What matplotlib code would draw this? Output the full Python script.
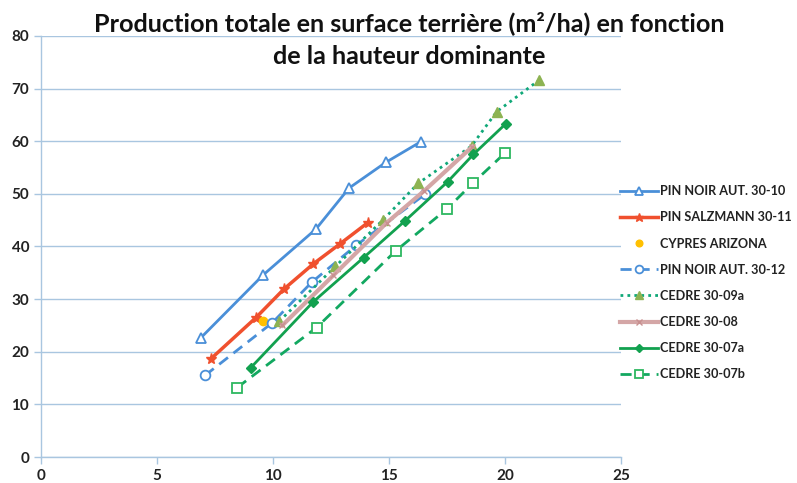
import matplotlib
matplotlib.use("Agg")
import matplotlib.pyplot as plt

plt.rcParams['font.family'] = ['Lato', 'DejaVu Sans']

title = "Production totale en surface terrière (m²/ha) en fonction\nde la hauteur dominante"

pn3010_x = [6.88, 9.58, 11.85, 13.28, 14.87, 16.37]
pn3010_y = [22.6, 34.6, 43.3, 51.1, 56.0, 59.9]

ps3011_x = [7.31, 9.27, 10.47, 11.74, 12.89, 14.08]
ps3011_y = [18.6, 26.5, 31.9, 36.7, 40.5, 44.5]

cyp_x = [9.58]
cyp_y = [25.8]

pn3012_x = [7.07, 9.97, 11.67, 13.58, 16.55]
pn3012_y = [15.5, 25.5, 33.2, 40.2, 49.9]

c3009a_x = [10.27, 12.69, 14.73, 16.26, 18.56, 19.64, 21.47]
c3009a_y = [25.8, 36.2, 45.0, 52.0, 59.1, 65.6, 71.6]

c3008_x = [10.4, 12.6, 14.9, 16.5, 18.6]
c3008_y = [25.0, 34.5, 44.5, 50.5, 59.0]

c3007a_x = [9.05, 11.74, 13.91, 15.70, 17.53, 18.64, 20.03]
c3007a_y = [17.0, 29.5, 37.9, 44.9, 52.3, 57.5, 63.3]

c3007b_x = [8.46, 11.88, 15.30, 17.49, 18.63, 20.01]
c3007b_y = [13.2, 24.6, 39.2, 47.1, 52.1, 57.8]

x_ticks = [0, 5, 10, 15, 20, 25]
y_ticks = [0, 10, 20, 30, 40, 50, 60, 70, 80]

fig = plt.figure(figsize=(7.97, 4.83), dpi=100)
ax = fig.add_axes([0.0514, 0.0538, 0.7277, 0.8717])

grid_c = '#a9c6e0'
ax.set_xlim(0, 25)
ax.set_ylim(0, 80)
ax.set_xticks(x_ticks)
ax.set_yticks(y_ticks)
ax.yaxis.grid(True, color=grid_c, linewidth=1.0)
ax.set_axisbelow(True)
for s in ['top', 'right']:
    ax.spines[s].set_visible(False)
for s in ['left', 'bottom']:
    ax.spines[s].set_color(grid_c)
    ax.spines[s].set_linewidth(1.0)
ax.tick_params(axis='both', colors=grid_c, length=5, width=1.0,
               labelcolor='#222222', labelsize=11)
for lab in ax.get_xticklabels() + ax.get_yticklabels():
    lab.set_fontweight('bold')

ax.plot(pn3010_x, pn3010_y, color='#4a8fd8', lw=2, marker='^', ms=7,
        mfc='white', mec='#4a8fd8', mew=1.3, label='PIN NOIR AUT. 30-10')
ax.plot(ps3011_x, ps3011_y, color='#f0502e', lw=2.5, marker='*', ms=8,
        mfc='#f0502e', mec='#f0502e', label='PIN SALZMANN 30-11')
ax.plot(cyp_x, cyp_y, ls='none', marker='o', ms=6, color='#ffc000',
        label='CYPRES ARIZONA')
ax.plot(pn3012_x, pn3012_y, color='#4a8fd8', lw=2, ls=(0, (4, 2.5)), marker='o',
        ms=7, mfc='white', mec='#4a8fd8', mew=1.3, label='PIN NOIR AUT. 30-12')
ax.plot(c3009a_x, c3009a_y, color='#10a878', lw=2, ls=(0, (1, 1.5)), marker='^',
        ms=7, mfc='#8db352', mec='#8db352', label='CEDRE 30-09a')
ax.plot(c3008_x, c3008_y, color='#d4a6a6', lw=3, marker='x', ms=5,
        mec='#c89090', label='CEDRE 30-08')
ax.plot(c3007a_x, c3007a_y, color='#12a14f', lw=2, marker='D', ms=5,
        mfc='#12a14f', mec='#12a14f', label='CEDRE 30-07a')
ax.plot(c3007b_x, c3007b_y, color='#12a860', lw=2, ls=(0, (4, 2.5)), marker='s',
        ms=7, mfc='white', mec='#2db860', mew=1.3, label='CEDRE 30-07b')

leg = fig.legend(loc='upper left', bbox_to_anchor=(0.772, 0.627), frameon=False,
                 fontsize=9.1, handlelength=3.0, handletextpad=0.15,
                 labelspacing=1.12, borderaxespad=0, markerscale=0.8)
for t in leg.get_texts():
    t.set_fontweight('bold')
    t.set_color('#222222')

fig.text(0.513, 0.978, title, ha='center', va='top', fontsize=18.2,
         fontweight='bold', color='#111111', linespacing=1.55)

fig.savefig('out.png', dpi=100)
